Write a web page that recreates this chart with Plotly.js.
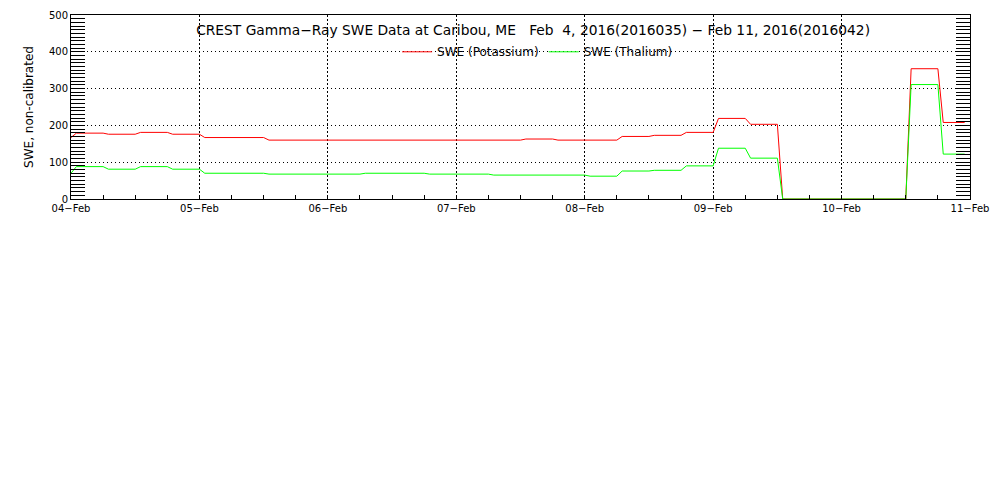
<!DOCTYPE html>
<html>
<head>
<meta charset="utf-8">
<script src="https://cdn.plot.ly/plotly-3.0.1.min.js"></script>
<style>html,body{margin:0;padding:0;background:#fff}#chart{width:1000px;height:500px}</style>
</head>
<body>
<div id="chart"></div>
<script>
// Potassium SWE (red)
const potTimes = [
  "2016-02-04 00:00","2016-02-04 01:00","2016-02-04 06:00","2016-02-04 07:00",
  "2016-02-04 12:00","2016-02-04 13:00","2016-02-04 18:00","2016-02-04 19:00",
  "2016-02-05 00:00","2016-02-05 01:00","2016-02-05 12:00","2016-02-05 13:00",
  "2016-02-07 12:00","2016-02-07 13:00","2016-02-07 18:00","2016-02-07 19:00",
  "2016-02-08 06:00","2016-02-08 07:00","2016-02-08 12:00","2016-02-08 13:00",
  "2016-02-08 18:00","2016-02-08 19:00","2016-02-09 00:00","2016-02-09 01:00",
  "2016-02-09 06:00","2016-02-09 07:00","2016-02-09 12:00","2016-02-09 13:00",
  "2016-02-10 12:00","2016-02-10 13:00","2016-02-10 18:00","2016-02-10 19:00",
  "2016-02-10 23:00"
];
const potValues = [
  167, 179, 179, 176,
  176, 181, 181, 176,
  176, 167, 167, 160,
  160, 163, 163, 160,
  160, 170, 170, 173,
  173, 181, 181, 219,
  219, 203, 203, 0,
  0, 354, 354, 208,
  208
];
// Thalium SWE (green)
const thalTimes = [
  "2016-02-04 00:00","2016-02-04 01:00","2016-02-04 06:00","2016-02-04 07:00",
  "2016-02-04 12:00","2016-02-04 13:00","2016-02-04 18:00","2016-02-04 19:00",
  "2016-02-05 00:00","2016-02-05 01:00","2016-02-05 12:00","2016-02-05 13:00",
  "2016-02-06 06:00","2016-02-06 07:00","2016-02-06 18:00","2016-02-06 19:00",
  "2016-02-07 06:00","2016-02-07 07:00","2016-02-08 00:00","2016-02-08 01:00",
  "2016-02-08 06:00","2016-02-08 07:00","2016-02-08 12:00","2016-02-08 13:00",
  "2016-02-08 18:00","2016-02-08 19:00","2016-02-09 00:00","2016-02-09 01:00",
  "2016-02-09 06:00","2016-02-09 07:00","2016-02-09 12:00","2016-02-09 13:00",
  "2016-02-10 12:00","2016-02-10 13:00","2016-02-10 18:00","2016-02-10 19:00",
  "2016-02-10 23:00"
];
const thalValues = [
  70, 88, 88, 81,
  81, 88, 88, 81,
  81, 70, 70, 67.6,
  67.6, 70, 70, 67.6,
  67.6, 65, 65, 62,
  62, 76, 76, 78,
  78, 90, 90, 138,
  138, 111, 111, 0,
  0, 311, 311, 122,
  122
];
const xTickVals = ["2016-02-04","2016-02-05","2016-02-06","2016-02-07","2016-02-08","2016-02-09","2016-02-10","2016-02-11"];
const xTickText = ["04\u2212Feb","05\u2212Feb","06\u2212Feb","07\u2212Feb","08\u2212Feb","09\u2212Feb","10\u2212Feb","11\u2212Feb"];
const yTickVals = [0, 100, 200, 300, 400, 500];
const seriesNames = ["SWE (Potassium)", "SWE (Thalium)"];
const titleText = "CREST Gamma\u2212Ray SWE Data at Caribou, ME \u00A0 Feb \u00A04, 2016(2016035) \u2212 Feb 11, 2016(2016042)";

const font = {family: "DejaVu Sans, sans-serif", size: 12, color: "#000"};
const tickFont = {family: "DejaVu Sans, sans-serif", size: 10, color: "#000"};

const traces = [
  {x: potTimes, y: potValues, name: seriesNames[0], type: "scatter", mode: "lines",
   line: {color: "#ff0000", width: 1}},
  {x: thalTimes, y: thalValues, name: seriesNames[1], type: "scatter", mode: "lines",
   line: {color: "#00ff00", width: 1}}
];

const layout = {
  width: 1000, height: 500,
  margin: {l: 71, r: 30, t: 15, b: 301, pad: 0},
  paper_bgcolor: "#fff", plot_bgcolor: "#fff",
  font: font,
  showlegend: true,
  legend: {orientation: "h", x: 0.519, xanchor: "center", y: 0.80, yanchor: "middle",
           bgcolor: "rgba(0,0,0,0)", font: font, itemwidth: 30, tracegroupgap: 0},
  title: {text: titleText, font: {family: font.family, size: 13.8, color: "#000"},
          x: 0.514, xref: "paper", xanchor: "center", y: 0.94, yref: "container", yanchor: "middle"},
  xaxis: {
    type: "date", range: ["2016-02-04", "2016-02-11"],
    tickvals: xTickVals, ticktext: xTickText,
    ticks: "inside", ticklen: 0, tickcolor: "#000",
    showgrid: true, gridcolor: "#000", gridwidth: 1, griddash: "2px,2px",
    showline: true, linecolor: "#000", linewidth: 1, mirror: true,
    zeroline: false, tickfont: tickFont,
    minor: {dtick: 6 * 3600 * 1000, ticks: "inside", ticklen: 4, tickcolor: "#000", showgrid: false}
  },
  yaxis: {
    range: [0, 500], tickvals: yTickVals,
    ticks: "inside", ticklen: 14, tickcolor: "#000",
    showgrid: true, gridcolor: "#000", gridwidth: 1, griddash: "1px,3px",
    showline: true, linecolor: "#000", linewidth: 1, mirror: "ticks",
    zeroline: false, tickfont: tickFont,
    title: {text: "SWE, non-calibrated", font: font, standoff: 12},
    minor: {dtick: 10, ticks: "inside", ticklen: 14, tickcolor: "#000", showgrid: false}
  }
};

Plotly.newPlot("chart", traces, layout, {displayModeBar: false, staticPlot: true});
</script>
</body>
</html>
